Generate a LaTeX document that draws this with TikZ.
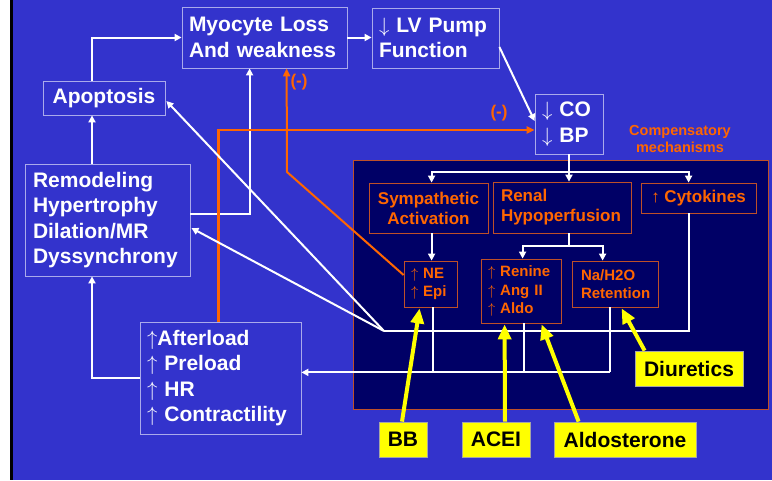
\documentclass[tikz,border=0pt]{standalone}
\usepackage{fontspec}
\setmainfont{Liberation Sans}
\usetikzlibrary{arrows.meta,calc}
\definecolor{bgblue}{RGB}{51,51,204}
\definecolor{navy}{RGB}{0,0,102}
\definecolor{orng}{RGB}{255,102,0}
\definecolor{brn}{RGB}{190,80,40}
\definecolor{yel}{RGB}{255,255,0}
\definecolor{edge}{RGB}{170,170,235}
\newcommand\uar{$\uparrow$}
\newcommand\dar{$\downarrow$}
\begin{document}
\begin{tikzpicture}[x=1pt,y=-1pt,
 wbox/.style={draw=edge,line width=0.8pt,text=white,inner sep=0pt,font=\bfseries\fontsize{21}{25.5}\selectfont,align=left},
 ibox/.style={draw=brn,line width=0.8pt,text=orng,inner sep=0pt,font=\bfseries\fontsize{17}{20}\selectfont,align=left},
 sbox/.style={ibox,font=\bfseries\fontsize{15}{18.5}\selectfont},
 ybox/.style={draw=gray!70,line width=0.8pt,fill=yel,text=black,inner sep=0pt,font=\bfseries\fontsize{21}{25}\selectfont},
 wl/.style={draw=white,line width=2pt},
 warr/.style={wl,-{Triangle[length=7pt,width=7pt]}},
 oarr/.style={draw=orng,line width=2pt,-{Triangle[length=8pt,width=7pt]}},
 yarr/.style={draw=yel,line width=4pt,-{Triangle[length=15pt,width=13pt]}},
 olab/.style={text=orng,inner sep=0pt,font=\bfseries\fontsize{17}{20}\selectfont},
]
\useasboundingbox (0,0) rectangle (772,480);
\fill[white] (0,0) rectangle (772,480);
\fill[black] (10,0) rectangle (12.5,480);
\fill[bgblue] (12.5,0) rectangle (772,480);
\draw[draw=brn,fill=navy,line width=0.8pt] (353,160) rectangle (768,409);

% white boxes
\node[wbox,minimum width=165pt,minimum height=61pt,text width=151pt] (myo) at (264.5,37.5) {Myocyte Loss\\And weakness};
\node[wbox,minimum width=127pt,minimum height=60pt,text width=113pt] (lv) at (435.5,38) {\dar\ LV Pump\\Function};
\node[wbox,minimum width=122pt,minimum height=34pt,align=center] (apo) at (104,98) {Apoptosis};
\node[wbox,minimum width=68pt,minimum height=60pt,text width=54pt] (co) at (569,124) {\dar\ CO\\\dar\ BP};
\node[wbox,minimum width=165pt,minimum height=112pt,text width=149pt] (remo) at (107.5,220) {Remodeling\\Hypertrophy\\Dilation/MR\\Dyssynchrony};
\node[wbox,minimum width=161pt,minimum height=112pt,text width=147pt] (aft) at (220.5,378) {\uar Afterload\\\uar\ Preload\\\uar\ HR\\\uar\ Contractility};

% inner boxes
\node[ibox,minimum width=119pt,minimum height=50pt,align=center] (symp) at (428.5,208) {Sympathetic\\Activation};
\node[ibox,minimum width=138pt,minimum height=51pt,text width=122pt] (renal) at (562,207.5) {Renal\\Hypoperfusion};
\node[ibox,minimum width=115pt,minimum height=30pt,align=center] (cyto) at (698.5,198) {↑ Cytokines};
\node[sbox,minimum width=53pt,minimum height=46pt,text width=39pt] (ne) at (430.5,284) {\uar\ NE\\\uar\ Epi};
\node[sbox,minimum width=80pt,minimum height=64pt,text width=66pt] (ren) at (521,291) {\uar\ Renine\\\uar\ Ang II\\\uar\ Aldo};
\node[sbox,minimum width=86pt,minimum height=46pt,text width=68pt] (na) at (615,284) {Na/H2O\\Retention};

\node[text=orng,inner sep=0pt,align=center,font=\bfseries\fontsize{14.5}{17}\selectfont] (comp) at (680,139) {Compensatory\\mechanisms};

% yellow boxes
\node[ybox,minimum width=48pt,minimum height=35pt] (bb) at (403,439.5) {BB};
\node[ybox,minimum width=68pt,minimum height=35pt] (acei) at (496,439.5) {ACEI};
\node[ybox,minimum width=142pt,minimum height=35pt] (aldo) at (625,439.5) {Aldosterone};
\node[ybox,minimum width=108pt,minimum height=35pt] (diu) at (689,368.5) {Diuretics};

% outer white connectors
\coordinate (lx) at (92,0);
\draw[warr] (apo.north -| lx) |- (myo.west);
\draw[warr] (myo.east) -- (myo.east -| lv.west);
\draw[warr] ($(lv.east)+(0,9)$) -- ($(co.west)+(0,-3)$);
\draw[warr] ($(remo.east)+(0,-6)$) -| ($(myo.south west)+(68,0)$);
\draw[warr] (remo.north -| lx) -- (apo.south -| lx);
\draw[warr] (aft.west) -| (remo.south -| lx);

% orange connectors
\draw[oarr,line width=2.5pt] ($(aft.north west)+(79,0)$) |- ($(co.west)+(0,6)$);
\coordinate (ob) at (287,172);
\draw[oarr] ($(ne.west)+(0,-9)$) -- (ob) -- ($(myo.south west)+(105,0)$);
\node[olab] (m1) at (299,82) {(-)};
\node[olab] (m2) at (499,113) {(-)};

% inner white connectors
\draw[wl] (co.south) -- ++(0,18) coordinate (j1);
\draw[warr] (j1) -| ($(symp.north west)+(63,0)$);
\draw[warr] (j1) -| ($(cyto.north west)+(48,0)$);
\draw[warr] (j1) -- (j1 |- renal.north);
\draw[wl] (j1 |- renal.south) -- ++(0,13) coordinate (j2);
\draw[warr] (j2) -| ($(ren.north west)+(42,0)$);
\draw[warr] (j2) -| ($(na.north west)+(31,0)$);
\draw[warr] ($(symp.south west)+(63,0)$) -- ($(ne.north west)+(28,0)$);

\coordinate (jn) at (384,331);
\draw[wl] ($(cyto.south west)+(48,0)$) |- (jn);
\draw[warr] (jn) -- ($(apo.east)+(1,3)$);
\draw[warr] (jn) -- ($(remo.east)+(1,8)$);
\draw[wl] ($(ne.south west)+(29,0)$) -- ++(0,65);
\draw[wl] ($(ren.south west)+(43,0)$) -- ++(0,49);
\draw[wl] ($(na.south west)+(38,0)$) -- ++(0,65) coordinate (jr);
\draw[warr] (jr) -- (jr -| aft.east);

% yellow arrows
\draw[yarr] ($(bb.north)+(-1,0)$) -- ($(ne.south west)+(16,1)$);
\draw[yarr] ($(acei.north)+(9,0)$) -- ($(ren.south west)+(24,1)$);
\draw[yarr] ($(aldo.north west)+(25,0)$) -- ($(ren.south west)+(61,1)$);
\draw[yarr] ($(diu.north west)+(10,0)$) -- ($(na.south west)+(50,1)$);
\end{tikzpicture}
\end{document}
